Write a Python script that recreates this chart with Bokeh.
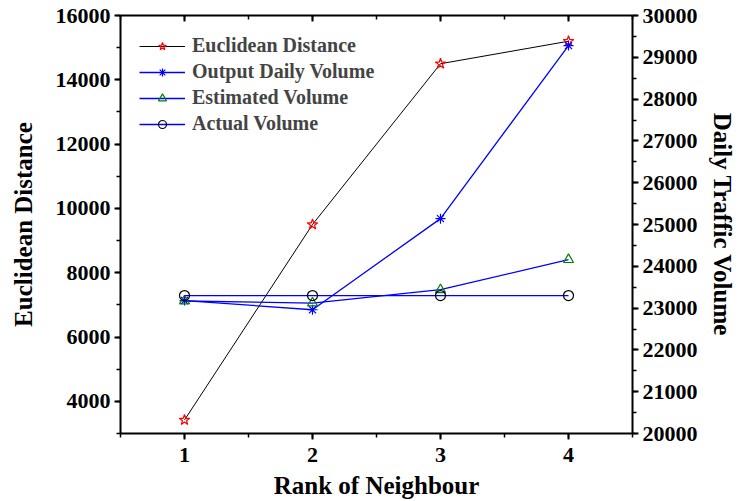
from bokeh.plotting import figure
from bokeh.models import Range1d, LinearAxis, SingleIntervalTicker, Legend, LegendItem, CustomJSTickFormatter
from bokeh.embed import file_html
from bokeh.resources import INLINE

rank = [1, 2, 3, 4]
euclid = [3420, 9500, 14500, 15200]
output_vol = [23180, 22960, 25140, 29280]
estimated_vol = [23170, 23120, 23440, 24160]
actual_vol = [23300, 23300, 23300, 23300]

FONT = "Liberation Serif"

p = figure(width=738, height=501, output_backend="svg", toolbar_location=None,
           x_range=Range1d(0.5, 4.5), y_range=Range1d(3000, 16000),
           min_border_left=120, min_border_right=106, min_border_top=15, min_border_bottom=67)
p.extra_y_ranges = {"right": Range1d(20000, 30000)}
p.grid.visible = False
p.outline_line_color = None
p.background_fill_color = "white"

def style_axis(ax, label_size="22px"):
    ax.axis_line_width = 2
    ax.axis_line_color = "black"
    ax.major_tick_line_width = 2
    ax.minor_tick_line_width = 1.5
    ax.major_tick_out = 6
    ax.major_tick_in = 0
    ax.minor_tick_out = 4
    ax.minor_tick_in = 0
    ax.major_label_text_font = FONT
    ax.major_label_text_font_style = "bold"
    ax.major_label_text_font_size = label_size
    ax.major_label_text_color = "black"
    ax.axis_label_text_font = FONT
    ax.axis_label_text_font_style = "bold"
    ax.axis_label_text_font_size = "25px"
    ax.axis_label_text_color = "black"

xa = p.xaxis[0]
xa.ticker = SingleIntervalTicker(interval=1, num_minor_ticks=2)
xa.axis_label = "Rank of Neighbour"
style_axis(xa)
xa.major_label_standoff = 8
xa.axis_label_standoff = 7

ya = p.yaxis[0]
ya.ticker = SingleIntervalTicker(interval=2000, num_minor_ticks=2)
ya.axis_label = "Euclidean Distance"
style_axis(ya)
ya.major_label_standoff = 4
ya.axis_label_standoff = 16

ra = LinearAxis(y_range_name="right", ticker=SingleIntervalTicker(interval=1000, num_minor_ticks=2),
                axis_label="Daily Traffic Volume")
style_axis(ra)
ra.major_label_standoff = 4
ra.axis_label_standoff = 8
p.add_layout(ra, "right")

ta = LinearAxis(ticker=SingleIntervalTicker(interval=1, num_minor_ticks=2),
                formatter=CustomJSTickFormatter(code="return ''"))
style_axis(ta)
ta.major_tick_out = 0
ta.major_tick_in = 6
ta.minor_tick_out = 0
ta.minor_tick_in = 4
p.add_layout(ta, "above")

# series
l1 = p.line(rank, euclid, line_color="black", line_width=1)
m1 = p.scatter(rank, euclid, marker="star", size=11, line_color="red", fill_color=None, line_width=1.2)

l2 = p.line(rank, output_vol, line_color="blue", line_width=1.3, y_range_name="right")
m2 = p.scatter(rank, output_vol, marker="asterisk", size=10, line_color="blue", line_width=1.2, y_range_name="right")

l3 = p.line(rank, estimated_vol, line_color="blue", line_width=1.3, y_range_name="right")
m3 = p.scatter(rank, estimated_vol, marker="triangle", size=10, line_color="green", fill_color=None, line_width=1.2, y_range_name="right")

l4 = p.line(rank, actual_vol, line_color="blue", line_width=1.3, y_range_name="right")
m4 = p.scatter(rank, actual_vol, marker="circle", size=10, line_color="black", fill_color=None, line_width=1.2, y_range_name="right")

legend = Legend(items=[
    LegendItem(label="Euclidean Distance", renderers=[l1, m1]),
    LegendItem(label="Output Daily Volume", renderers=[l2, m2]),
    LegendItem(label="Estimated Volume", renderers=[l3, m3]),
    LegendItem(label="Actual Volume", renderers=[l4, m4]),
], location="top_left")
legend.border_line_color = None
legend.background_fill_alpha = 0
legend.label_text_font = FONT
legend.label_text_font_style = "bold"
legend.label_text_font_size = "20px"
legend.glyph_width = 46
legend.glyph_height = 20
legend.label_standoff = 7
legend.spacing = 3
legend.margin = 19
legend.padding = 6
p.add_layout(legend, "center")

open("out.html", "w").write(file_html(p, INLINE))
